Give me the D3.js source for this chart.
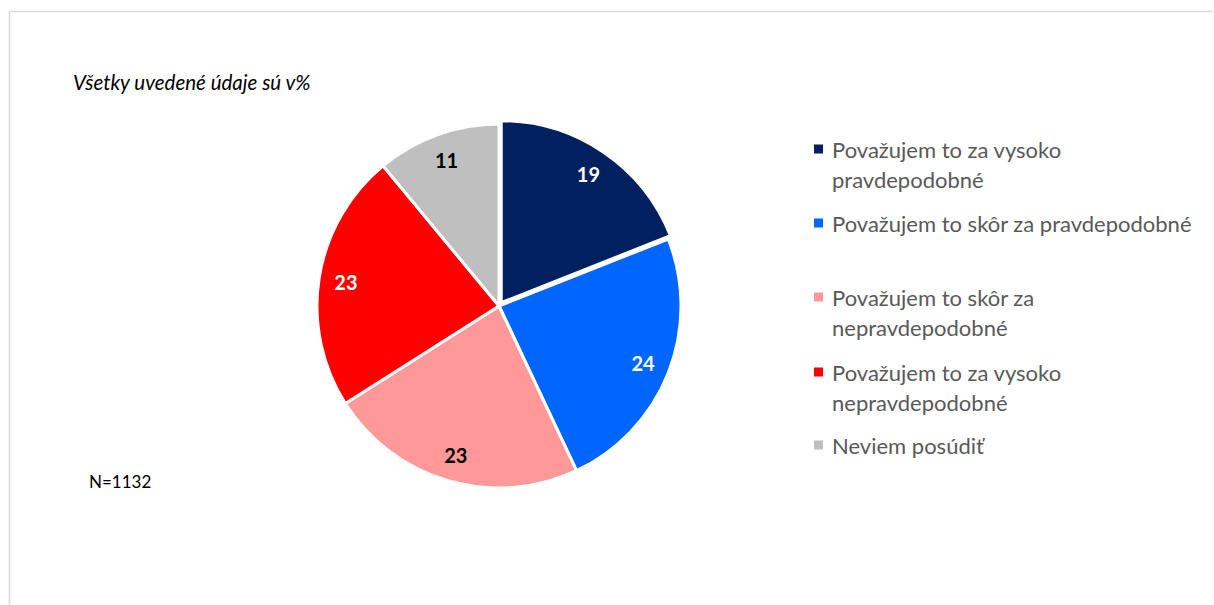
<!DOCTYPE html>
<html><head><meta charset="utf-8">
<script src="https://cdn.jsdelivr.net/npm/d3@7"></script>
<style>
html,body{margin:0;padding:0;background:#fff;}
svg{display:block;font-family:Lato,"Open Sans",sans-serif;}
</style></head>
<body><svg id="c" width="1214" height="605"></svg>
<script>
const categories = [
  "Považujem to za vysoko pravdepodobné",
  "Považujem to skôr za pravdepodobné",
  "Považujem to skôr za nepravdepodobné",
  "Považujem to za vysoko nepravdepodobné",
  "Neviem posúdiť"
];
const values = [19, 24, 23, 23, 11];
const colors = ["#002060", "#0066FF", "#FF9999", "#FF0000", "#BFBFBF"];
const labelColors = ["#FFFFFF", "#FFFFFF", "#000000", "#FFFFFF", "#000000"];
const legendLines = [
  ["Považujem to za vysoko", "pravdepodobné"],
  ["Považujem to skôr za pravdepodobné"],
  ["Považujem to skôr za", "nepravdepodobné"],
  ["Považujem to za vysoko", "nepravdepodobné"],
  ["Neviem posúdiť"]
];
const legendY = [149, 223, 297, 372, 445];
const titleText = "Všetky uvedené údaje sú v%";
const noteText = "N=1132";

const svg = d3.select("#c");

// frame
svg.append("path")
  .attr("d", "M9.5,605 L9.5,11.5 L1213,11.5")
  .attr("fill", "none").attr("stroke", "#D9D9D9").attr("stroke-width", 1.5);

svg.append("text").attr("x", 73).attr("y", 90)
  .attr("font-style", "italic").attr("font-size", 20.5).attr("fill", "#000")
  .text(titleText);

svg.append("text").attr("x", 89).attr("y", 488)
  .attr("font-size", 17).attr("fill", "#000")
  .text(noteText);

const cx = 499, cy = 306, R = 182, labelR = 155;
const pie = d3.pie().sort(null).value(d => d)(values);
const arc = d3.arc().innerRadius(0).outerRadius(R);
const labelArc = d3.arc().innerRadius(labelR).outerRadius(labelR);

const g = svg.append("g").attr("transform", `translate(${cx},${cy})`);
const explode = [4, 0, 0, 0, 0];

const slices = g.selectAll("g.slice").data(pie).enter().append("g")
  .attr("transform", (d, i) => {
    const a = (d.startAngle + d.endAngle) / 2;
    return `translate(${Math.sin(a) * explode[i]},${-Math.cos(a) * explode[i]})`;
  });
slices.append("path").attr("d", arc)
  .attr("fill", (d, i) => colors[i])
  .attr("stroke", "#fff").attr("stroke-width", 3).attr("stroke-linejoin", "round");
slices.append("text")
  .attr("transform", d => `translate(${labelArc.centroid(d)})`)
  .attr("text-anchor", "middle").attr("dominant-baseline", "central")
  .attr("font-weight", "bold").attr("font-size", 20)
  .attr("fill", (d, i) => labelColors[i])
  .text(d => d.data);

// legend
const lg = svg.append("g");
categories.forEach((c, i) => {
  lg.append("rect").attr("x", 814).attr("y", legendY[i] - 4.5)
    .attr("width", 9).attr("height", 9).attr("fill", colors[i]);
  const t = lg.append("text").attr("x", 832).attr("y", legendY[i])
    .attr("font-size", 22).attr("fill", "#595959")
    .attr("dominant-baseline", "central");
  legendLines[i].forEach((ln, j) => {
    t.append("tspan").attr("x", 832).attr("dy", j === 0 ? 0 : 30).text(ln);
  });
});
</script>
</body></html>
